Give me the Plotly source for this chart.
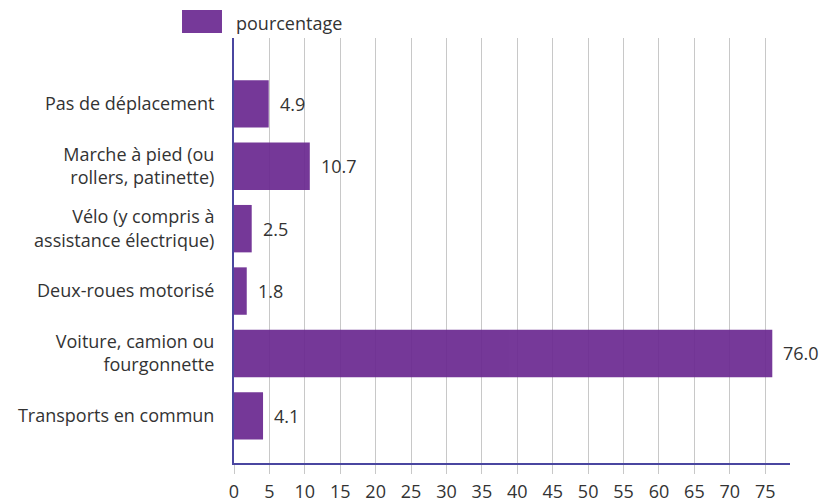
import plotly.graph_objects as go

categories = [
    "Pas de déplacement",
    "Marche à pied (ou<br>rollers, patinette)",
    "Vélo (y compris à<br>assistance électrique)",
    "Deux-roues motorisé",
    "Voiture, camion ou<br>fourgonnette",
    "Transports en commun",
]
values = [4.9, 10.7, 2.5, 1.8, 76.0, 4.1]
series_name = "pourcentage"
x_ticks = list(range(0, 80, 5))

BAR = "#6a2890"
AXIS = "#4a46a0"
FONT = "Open Sans"
TXT = "#333333"
FS = 18

fig = go.Figure()
fig.add_trace(go.Bar(
    y=categories, x=values, orientation="h", name=series_name,
    marker=dict(color=BAR, line=dict(width=0)), opacity=0.92, width=0.76,
    showlegend=False,
))
for c, v in zip(categories, values):
    fig.add_annotation(x=v, y=c, xref="x", yref="y", text=f"{v:.1f}",
                       showarrow=False, xanchor="left", xshift=9,
                       font=dict(family=FONT, size=FS, color=TXT))

# legend drawn as swatch + label
fig.add_shape(type="rect", xref="paper", yref="paper",
              x0=-0.0935, x1=-0.0216, y0=1.012, y1=1.066,
              fillcolor=BAR, line=dict(width=0), opacity=0.92)
fig.add_annotation(xref="paper", yref="paper", x=0.0, y=1.036,
                   text=series_name, showarrow=False, xanchor="left", yanchor="middle",
                   font=dict(family=FONT, size=FS, color=TXT))

fig.update_layout(
    width=820, height=503,
    margin=dict(l=234, r=30, t=38, b=40, autoexpand=False),
    paper_bgcolor="white", plot_bgcolor="white",
    font=dict(family=FONT, size=FS, color=TXT),
    xaxis=dict(range=[0, 78.5], tickvals=x_ticks, showgrid=True, gridcolor="#c8c8c8",
               gridwidth=1, zeroline=False, showline=True, linecolor=AXIS, linewidth=2,
               ticks="outside", ticklen=9, tickcolor="#c8c8c8", tickwidth=1,
               ticklabelstandoff=2, automargin=False,
               tickfont=dict(size=FS, color=TXT)),
    yaxis=dict(type="category", range=[5.756, -1.056], showgrid=False, zeroline=False,
               showline=True, linecolor=AXIS, linewidth=2, ticks="", ticklabelstandoff=14,
               automargin=False, tickfont=dict(size=FS, color=TXT)),
)
fig.write_html("out.html", config={"displayModeBar": False},
               post_script="document.body.style.margin='0';document.body.style.overflow='hidden';")
